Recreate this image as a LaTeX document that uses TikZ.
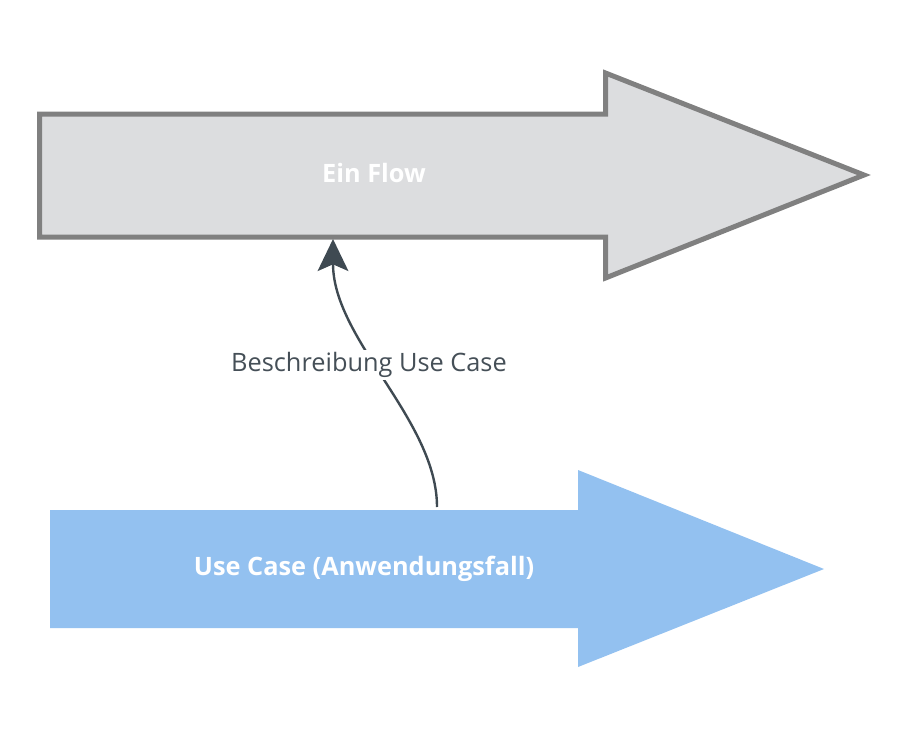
\documentclass[tikz,border=0pt]{standalone}
\usepackage{fontspec}
\setmainfont{Open Sans}
\usetikzlibrary{arrows.meta}
\definecolor{flowfill}{HTML}{DCDDDF}
\definecolor{flowdraw}{HTML}{808080}
\definecolor{ucfill}{HTML}{93C1F0}
\definecolor{edgecol}{HTML}{3F4A52}
\definecolor{labelcol}{HTML}{454F57}
\begin{document}
\begin{tikzpicture}[x=0.75pt,y=-0.75pt,
  arrowlabel/.style={text=white,font=\fontsize{19}{23}\selectfont\bfseries},
  edgelabel/.style={text=labelcol,fill=white,inner sep=2pt,font=\fontsize{19}{23}\selectfont},
  connector/.style={draw=edgecol,line width=1.8pt,-{Stealth[length=24pt,width=23pt,inset=5pt]}}]
\useasboundingbox (0,0) rectangle (902,746);
% top arrow
\path[fill=flowfill,draw=flowdraw,line width=3.75pt,line join=miter]
  (39.5,114) -- (605.5,114) -- (605.5,73) -- (864,175) -- (605.5,278) -- (605.5,237) -- (39.5,237) -- cycle;
\node[arrowlabel] (flow) at (374,173) {Ein Flow};
% bottom arrow
\path[fill=ucfill]
  (50,510) -- (578,510) -- (578,470) -- (824,569) -- (578,667) -- (578,628) -- (50,628) -- cycle;
\node[arrowlabel] (uc) at (364,569) {Use Case (Anwendungsfall)};
% connector
\coordinate (src) at (437,507);
\coordinate (dst) at (333,239);
\draw[connector] (src) .. controls (437,420) and (333,340) .. (dst);
\node[edgelabel] (lbl) at (369,365) {Beschreibung Use Case};
\end{tikzpicture}
\end{document}
